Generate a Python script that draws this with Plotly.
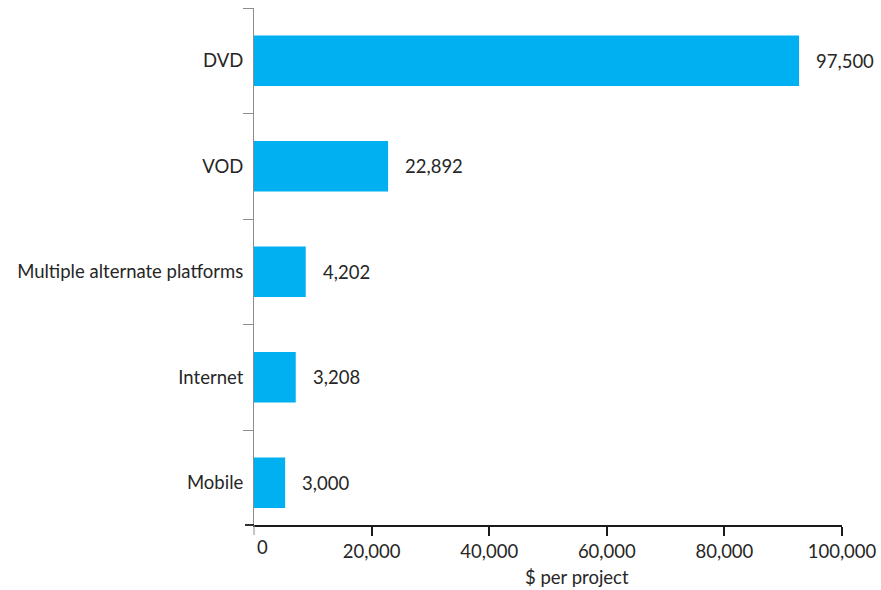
import plotly.graph_objects as go

categories = ["DVD", "VOD", "Multiple alternate platforms", "Internet", "Mobile"]
bar_values = [92700, 22800, 8800, 7100, 5300]
value_labels = ["97,500", "22,892", "4,202", "3,208", "3,000"]
x_ticks = [20000, 40000, 60000, 80000, 100000]
x_tick_labels = ["20,000", "40,000", "60,000", "80,000", "100,000"]

FONT = "Lato, 'Open Sans', sans-serif"
TXT = "#262626"
FS = 18.5

fig = go.Figure()
fig.add_trace(go.Bar(
    y=categories, x=bar_values, orientation="h",
    marker=dict(color="#00B0F0", line=dict(width=0)),
    hoverinfo="skip",
))

for c, v, t in zip(categories, bar_values, value_labels):
    fig.add_annotation(x=v, y=c, text=t, showarrow=False, xanchor="left",
                       xshift=15, font=dict(family=FONT, size=FS, color=TXT))

# x-axis title
fig.add_annotation(x=0.55, y=0, xref="paper", yref="paper", yshift=-52,
                   text="$ per project", showarrow=False, xanchor="center",
                   yanchor="middle", font=dict(family=FONT, size=FS, color=TXT))
# "0" tick label
fig.add_annotation(x=0, y=0, yref="paper", yshift=-22, xshift=8,
                   text="0", showarrow=False, xanchor="center", yanchor="middle",
                   font=dict(family=FONT, size=FS, color=TXT))

# extension of the x axis line to the left and grey tick at 0
fig.add_shape(type="line", xref="paper", yref="paper", x0=-9/588, x1=0, y0=0, y1=0,
              line=dict(color="#1a1a1a", width=1.8))
fig.add_shape(type="line", xref="paper", yref="paper", x0=0, x1=0, y0=0, y1=-10/517,
              line=dict(color="#8c8c8c", width=1))

fig.update_layout(
    width=881, height=590,
    margin=dict(l=254, r=39, t=8, b=65, autoexpand=False),
    plot_bgcolor="white", paper_bgcolor="white",
    showlegend=False,
    bargap=0.52,
    font=dict(family=FONT, size=FS, color=TXT),
    xaxis=dict(
        range=[0, 100000], tickvals=x_ticks, ticktext=x_tick_labels,
        showgrid=False, zeroline=False, automargin=False,
        showline=True, linecolor="#1a1a1a", linewidth=1.8,
        ticks="outside", ticklen=9, tickcolor="#1a1a1a", tickwidth=1.5,
        tickfont=dict(family=FONT, size=FS, color=TXT),
    ),
    yaxis=dict(
        type="category", categoryorder="array", categoryarray=categories,
        range=[4.4, -0.5], automargin=False,
        showgrid=False, zeroline=False,
        showline=True, linecolor="#8c8c8c", linewidth=1,
        ticks="outside", ticklen=10, tickcolor="#8c8c8c", tickwidth=1,
        tickson="boundaries", ticklabelstandoff=6,
        tickfont=dict(family=FONT, size=FS, color=TXT),
    ),
)

fig.write_html("out.html")
